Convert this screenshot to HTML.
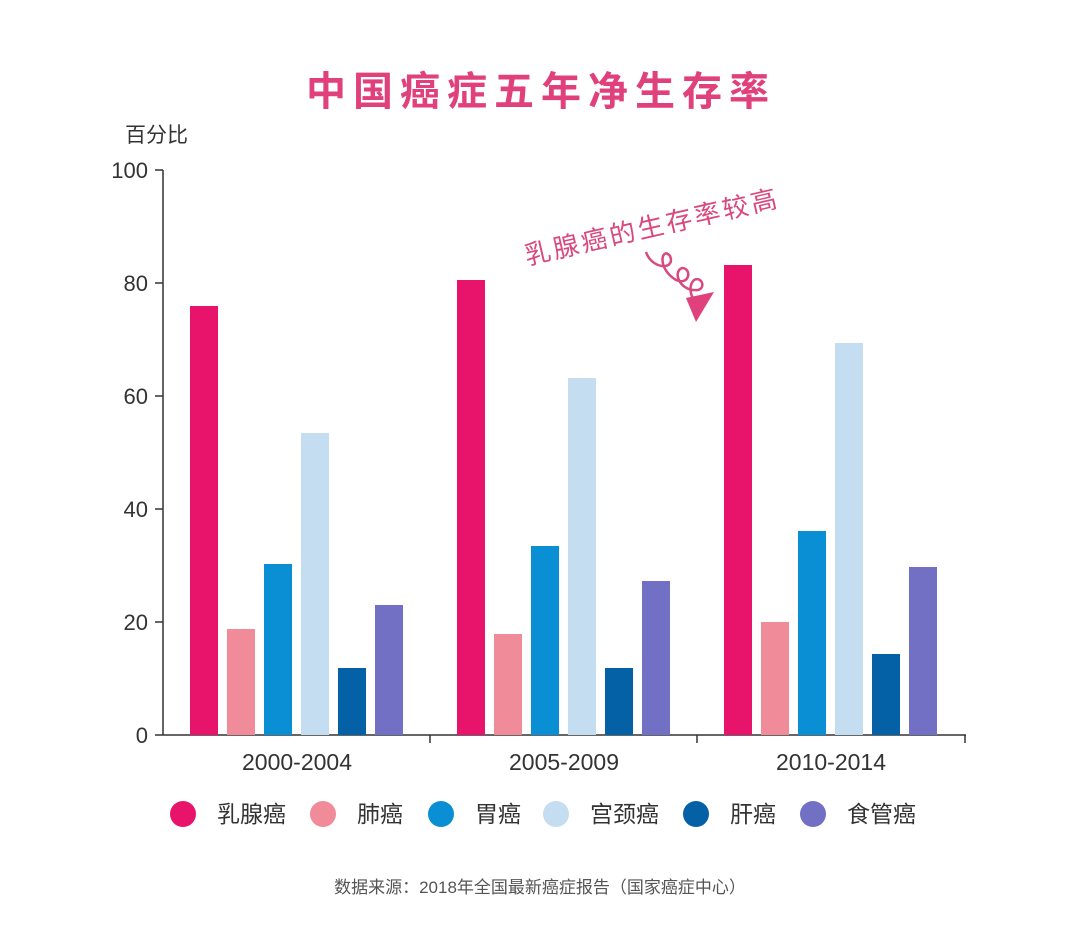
<!DOCTYPE html>
<html><head><meta charset="utf-8"><style>
body{margin:0;background:#fff;}
svg text{font-family:"Liberation Sans","Noto Sans CJK SC",sans-serif;}
</style></head><body>
<svg width="1080" height="944" xmlns="http://www.w3.org/2000/svg">
<rect width="1080" height="944" fill="#fff"/>
<text x="541" y="105" text-anchor="middle" font-size="40" font-weight="bold" fill="#e0417c" letter-spacing="7">中国癌症五年净生存率</text>
<text x="125" y="142" font-size="21" fill="#333">百分比</text>
<g font-size="22" fill="#333" text-anchor="end">
<text x="148" y="178">100</text><text x="148" y="291">80</text><text x="148" y="404">60</text>
<text x="148" y="517">40</text><text x="148" y="630">20</text><text x="148" y="743">0</text>
</g>
<g stroke="#333" stroke-width="1.5">
<line x1="163" y1="170" x2="163" y2="735"/>
<line x1="163" y1="735" x2="966" y2="735"/>
<line x1="155" y1="170" x2="163" y2="170"/><line x1="155" y1="283" x2="163" y2="283"/>
<line x1="155" y1="396" x2="163" y2="396"/><line x1="155" y1="509" x2="163" y2="509"/>
<line x1="155" y1="622" x2="163" y2="622"/><line x1="155" y1="735" x2="163" y2="735"/>
<line x1="430" y1="735" x2="430" y2="743"/><line x1="697" y1="735" x2="697" y2="743"/><line x1="965" y1="735" x2="965" y2="743"/>
</g>
<g>
<rect x="190" y="306" width="28" height="429" fill="#e8136b"/>
<rect x="227" y="629" width="28" height="106" fill="#f08c9a"/>
<rect x="264" y="564" width="28" height="171" fill="#0a8fd4"/>
<rect x="301" y="433" width="28" height="302" fill="#c5ddf0"/>
<rect x="338" y="668" width="28" height="67" fill="#0561a6"/>
<rect x="375" y="605" width="28" height="130" fill="#7270c4"/>
<rect x="457" y="280" width="28" height="455" fill="#e8136b"/>
<rect x="494" y="634" width="28" height="101" fill="#f08c9a"/>
<rect x="531" y="546" width="28" height="189" fill="#0a8fd4"/>
<rect x="568" y="378" width="28" height="357" fill="#c5ddf0"/>
<rect x="605" y="668" width="28" height="67" fill="#0561a6"/>
<rect x="642" y="581" width="28" height="154" fill="#7270c4"/>
<rect x="724" y="265" width="28" height="470" fill="#e8136b"/>
<rect x="761" y="622" width="28" height="113" fill="#f08c9a"/>
<rect x="798" y="531" width="28" height="204" fill="#0a8fd4"/>
<rect x="835" y="343" width="28" height="392" fill="#c5ddf0"/>
<rect x="872" y="654" width="28" height="81" fill="#0561a6"/>
<rect x="909" y="567" width="28" height="168" fill="#7270c4"/>
</g>
<g font-size="23" fill="#333" text-anchor="middle">
<text x="297" y="770">2000-2004</text><text x="564" y="770">2005-2009</text><text x="831" y="770">2010-2014</text>
</g>
<text x="0" y="0" font-size="26" fill="#d9497e" transform="translate(527,265) rotate(-13)" letter-spacing="3">乳腺癌的生存率较高</text>
<path d="M646 252 C652 270,676 270,670 256 C662 246,656 268,676 280 C690 286,692 268,682 268 C672 272,680 292,698 290 C706 288,702 276,694 280 C688 286,690 298,698 304" fill="none" stroke="#d9497e" stroke-width="2.5"/>
<polygon points="686,298 714,292 696,322" fill="#e0417c"/>
<g font-size="23" fill="#333">
<circle cx="183" cy="814" r="13" fill="#e8136b"/><text x="217" y="822">乳腺癌</text>
<circle cx="323" cy="814" r="13" fill="#f08c9a"/><text x="357" y="822">肺癌</text>
<circle cx="441" cy="814" r="13" fill="#0a8fd4"/><text x="475" y="822">胃癌</text>
<circle cx="556" cy="814" r="13" fill="#c5ddf0"/><text x="590" y="822">宫颈癌</text>
<circle cx="696" cy="814" r="13" fill="#0561a6"/><text x="730" y="822">肝癌</text>
<circle cx="813" cy="814" r="13" fill="#7270c4"/><text x="847" y="822">食管癌</text>
</g>
<text x="540" y="893" font-size="17" fill="#555" text-anchor="middle">数据来源：2018年全国最新癌症报告（国家癌症中心）</text>
</svg>
</body></html>
